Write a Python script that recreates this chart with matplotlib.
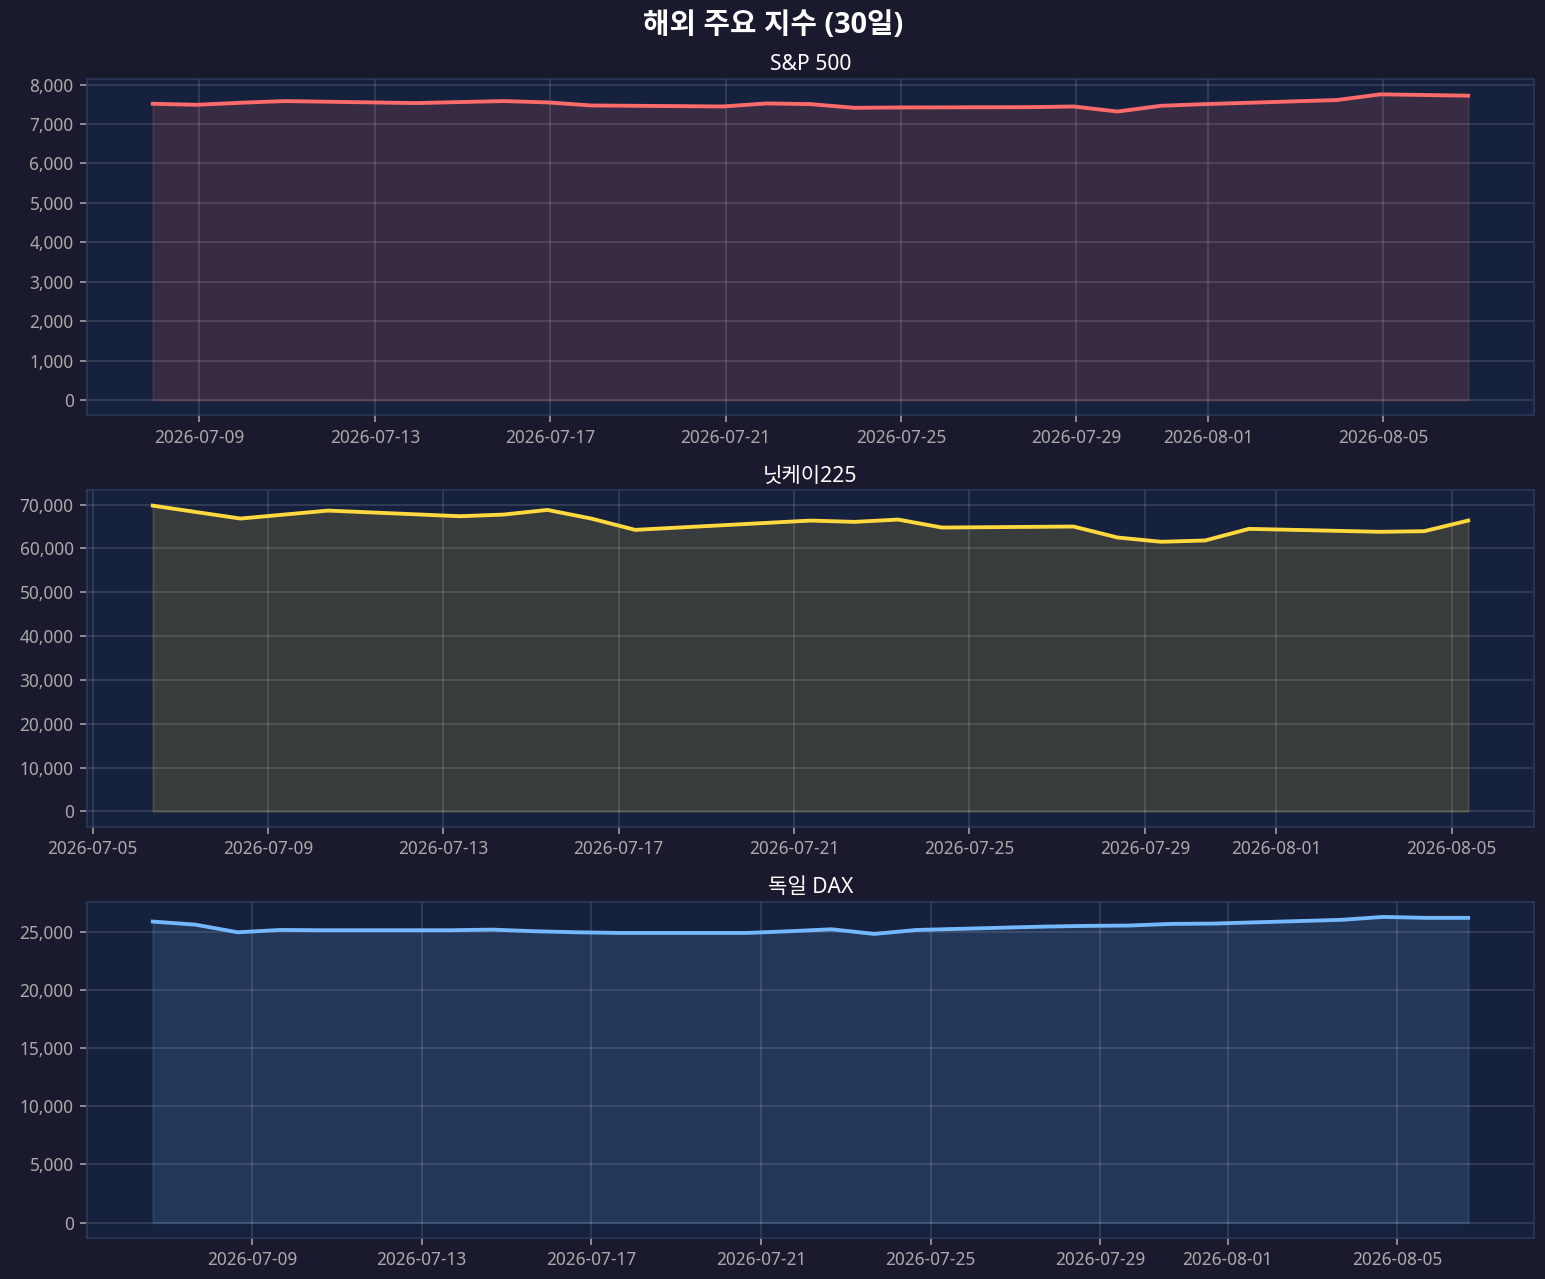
import matplotlib
matplotlib.use('Agg')
import matplotlib.pyplot as plt
import matplotlib.dates as mdates
from matplotlib.ticker import FuncFormatter
import pandas as pd

plt.rcParams['font.family'] = ['Noto Sans', 'Noto Sans CJK KR', 'DejaVu Sans']

# S&P 500 (session open, KST)
sp_dates = ['2026-07-07', '2026-07-08', '2026-07-09', '2026-07-10', '2026-07-13',
            '2026-07-14', '2026-07-15', '2026-07-16', '2026-07-17', '2026-07-20',
            '2026-07-21', '2026-07-22', '2026-07-23', '2026-07-24', '2026-07-27',
            '2026-07-28', '2026-07-29', '2026-07-30', '2026-07-31', '2026-08-03',
            '2026-08-04', '2026-08-05', '2026-08-06']
sp_values = [7513, 7487, 7538, 7581, 7530, 7556, 7581, 7547, 7470, 7444,
             7521, 7504, 7410, 7419, 7427, 7444, 7316, 7462, 7504, 7607,
             7752, 7735, 7718]

# 닛케이225
nk_dates = ['2026-07-06', '2026-07-07', '2026-07-08', '2026-07-09', '2026-07-10',
            '2026-07-13', '2026-07-14', '2026-07-15', '2026-07-16', '2026-07-17',
            '2026-07-21', '2026-07-22', '2026-07-23', '2026-07-24', '2026-07-27',
            '2026-07-28', '2026-07-29', '2026-07-30', '2026-07-31', '2026-08-03',
            '2026-08-04', '2026-08-05']
nk_values = [69770, 68290, 66820, 67730, 68640, 67350, 67730, 68790, 66820, 64240,
             66360, 66060, 66590, 64770, 65000, 62500, 61520, 61820, 64470, 63790,
             63940, 66360]

# 독일 DAX
dax_dates = ['2026-07-06', '2026-07-07', '2026-07-08', '2026-07-09', '2026-07-10',
             '2026-07-13', '2026-07-14', '2026-07-15', '2026-07-16', '2026-07-17',
             '2026-07-20', '2026-07-21', '2026-07-22', '2026-07-23', '2026-07-24',
             '2026-07-27', '2026-07-28', '2026-07-29', '2026-07-30', '2026-07-31',
             '2026-08-03', '2026-08-04', '2026-08-05', '2026-08-06']
dax_values = [25860, 25600, 24940, 25140, 25115, 25115, 25170, 25030, 24940, 24885,
              24885, 25030, 25200, 24800, 25140, 25430, 25490, 25520, 25660, 25690,
              26010, 26260, 26180, 26180]

# (name, dates, values, session open hour KST, colour)
series = [
    ('S&P 500', sp_dates, sp_values, 22.5, '#ff6b6b'),
    ('닛케이225', nk_dates, nk_values, 9, '#ffd93d'),
    ('독일 DAX', dax_dates, dax_values, 16, '#74b9ff'),
]

fig, axes = plt.subplots(3, 1, figsize=(1546 / 138, 1279 / 138), dpi=138)
fig.patch.set_facecolor('#1a1a2e')

for ax, (name, dates, values, hour, color) in zip(axes, series):
    x = pd.to_datetime(dates) + pd.Timedelta(hours=hour)
    ax.set_facecolor('#16213e')
    ax.plot(x, values, color=color, linewidth=2)
    ax.fill_between(x, values, alpha=0.15, color=color)
    ax.set_title(name, color='white', fontsize=11, pad=4.5)
    ax.grid(True, color='white', alpha=0.15)
    ax.tick_params(colors='#aaaaaa', labelsize=9)
    for sp in ax.spines.values():
        sp.set_color('#2e3a5c')
    ax.xaxis.set_major_formatter(mdates.DateFormatter('%Y-%m-%d'))
    ax.yaxis.set_major_formatter(FuncFormatter(lambda v, _: f'{v:,.0f}'))

fig.suptitle('해외 주요 지수 (30일)', color='white', fontsize=15, fontweight='bold',
             y=0.980, va='center', family=['Open Sans', 'Noto Sans CJK KR'])
plt.subplots_adjust(left=0.0563, right=0.9922, top=0.9382, bottom=0.0321, hspace=0.223)
plt.savefig('out.png', facecolor=fig.get_facecolor())
